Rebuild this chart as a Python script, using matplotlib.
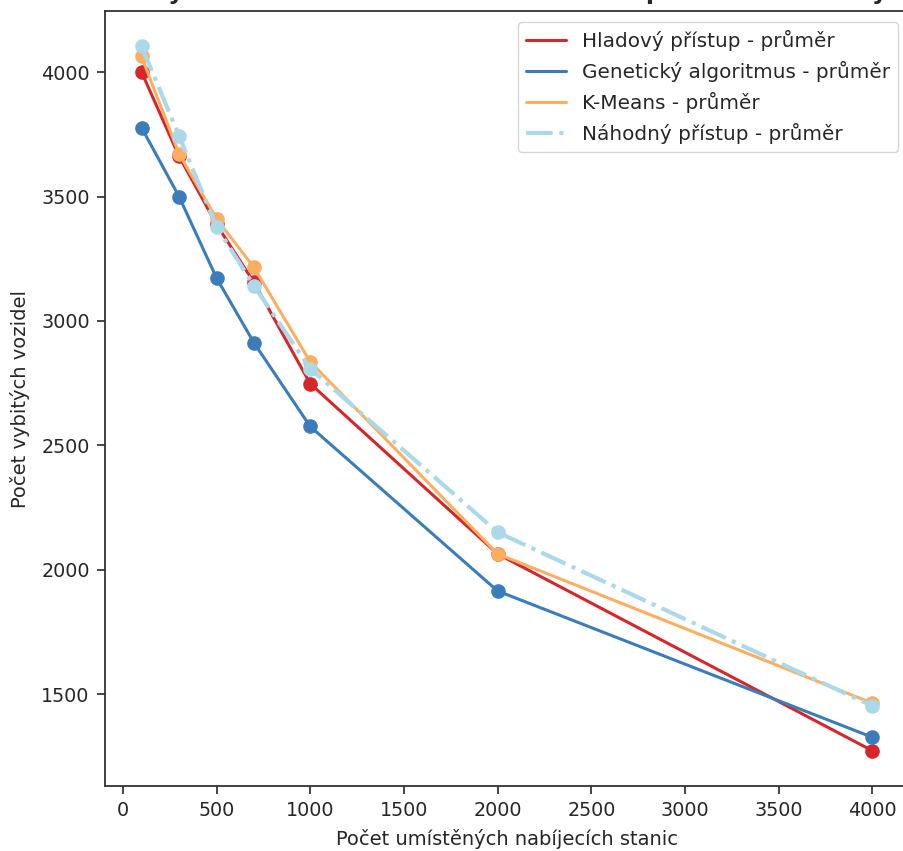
import matplotlib.pyplot as plt
from matplotlib.lines import Line2D
import seaborn as sns

# Data
stanice = [100, 300, 500, 700, 1000, 2000, 4000]
hladovy = [4000, 3662, 3388, 3155, 2748, 2064, 1273]
geneticky = [3777, 3500, 3173, 2912, 2576, 1915, 1327]
kmeans = [4063, 3672, 3411, 3215, 2836, 2064, 1464]
nahodny = [4104, 3744, 3379, 3141, 2808, 2151, 1453]

nazvy = ['Hladový přístup - průměr', 'Genetický algoritmus - průměr',
         'K-Means - průměr', 'Náhodný přístup - průměr']
barvy = ['#d7262a', '#3a7dba', '#fdae61', '#abd9e9']
styly = ['-', '-', '-', '-.']
sirky = [2.2, 2.2, 2.2, 3.0]

sns.set_theme(style='ticks', context='notebook', font_scale=1.25)
plt.rcParams['font.family'] = ['DejaVu Sans']

fig = plt.figure(figsize=(9.04, 8.51), dpi=100)
ax = fig.add_axes([105 / 904, 65 / 851, 804 / 904, 775 / 851])

serie = [hladovy, geneticky, kmeans, nahodny]
for y, c, ls, lw in zip(serie, barvy, styly, sirky):
    ax.plot(stanice, y, color=c, lw=lw, ls=ls, marker='o', ms=9.5)

ax.set_xlim(-95, 4195)
ax.set_xlabel('Počet umístěných nabíjecích stanic', fontsize=14, labelpad=6)
ax.set_ylabel('Počet vybitých vozidel', fontsize=14, labelpad=8)
ax.set_xticks([0, 500, 1000, 1500, 2000, 2500, 3000, 3500, 4000])
ax.set_yticks([1500, 2000, 2500, 3000, 3500, 4000])
ax.tick_params(length=6, width=1.2, pad=5)
ax.tick_params(axis='y', right=False)
for s in ax.spines.values():
    s.set_linewidth(1.3)
    s.set_color('#333333')
ax.spines['right'].set_visible(False)
ax.patch.set_edgecolor('none')
ax.patch.set_linewidth(0)

handles = [Line2D([], [], color=c, lw=lw, ls=ls) for c, ls, lw in zip(barvy, styly, sirky)]
ax.legend(handles, nazvy, loc='upper right', fontsize=14.4, frameon=True,
          borderaxespad=0.55)

# title sits mostly above the visible area
fig.text(0.574, 1.0 + 1 / 851, 'Výsledná efektivita umístění stanic – porovnání metody',
         ha='center', va='baseline', fontsize=16.9, fontweight='bold')

fig.patch.set_edgecolor('white')
fig.patch.set_linewidth(0)
fig.savefig('out.png', dpi=100, facecolor='white', edgecolor='none')
